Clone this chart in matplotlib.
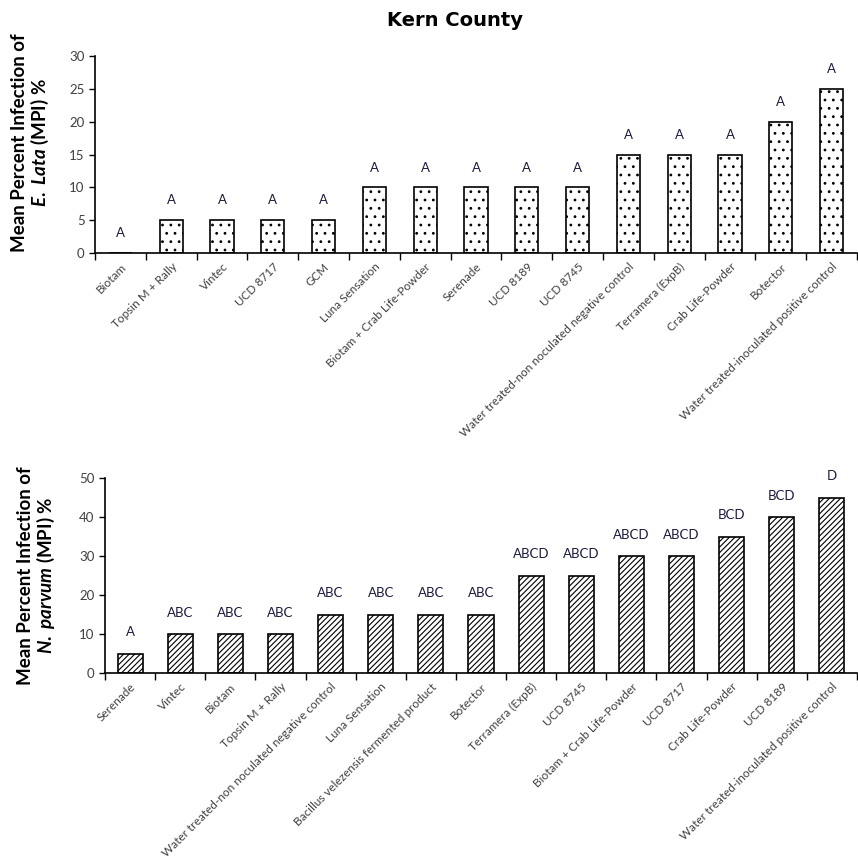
import matplotlib
matplotlib.use("Agg")
import matplotlib.pyplot as plt
import numpy as np

plt.rcParams['font.family'] = ['Lato', 'DejaVu Sans']
plt.rcParams['mathtext.fontset'] = 'custom'
plt.rcParams['mathtext.it'] = 'Lato:italic:bold'
plt.rcParams['mathtext.rm'] = 'Lato:bold'
plt.rcParams['hatch.linewidth'] = 0.8

# ---- data ----
top_categories = ["Biotam", "Topsin M + Rally", "Vintec", "UCD 8717", "GCM",
                  "Luna Sensation", "Biotam + Crab Life-Powder", "Serenade",
                  "UCD 8189", "UCD 8745",
                  "Water treated-non noculated negative control",
                  "Terramera (ExpB)", "Crab Life-Powder", "Botector",
                  "Water treated-inoculated positive control"]
top_values = [0, 5, 5, 5, 5, 10, 10, 10, 10, 10, 15, 15, 15, 20, 25]
top_letters = ["A"] * 15

bot_categories = ["Serenade", "Vintec", "Biotam", "Topsin M + Rally",
                  "Water treated-non noculated negative control",
                  "Luna Sensation", "Bacillus velezensis fermented product",
                  "Botector", "Terramera (ExpB)", "UCD 8745",
                  "Biotam + Crab Life-Powder", "UCD 8717", "Crab Life-Powder",
                  "UCD 8189", "Water treated-inoculated positive control"]
bot_values = [5, 10, 10, 10, 15, 15, 15, 15, 25, 25, 30, 30, 35, 40, 45]
bot_letters = ["A", "ABC", "ABC", "ABC", "ABC", "ABC", "ABC", "ABC",
               "ABCD", "ABCD", "ABCD", "ABCD", "BCD", "BCD", "D"]

W, H = 858, 867
fig = plt.figure(figsize=(W / 100, H / 100), dpi=100)

tick_col = '#404040'
letter_col = '#1a1a40'


def make(ax, cats, vals, letters, ymax, ystep, hatch, width, offset, ylabel_species):
    x = np.arange(len(cats))
    ax.bar(x, vals, width=width, color='white', edgecolor='black',
           hatch=hatch, linewidth=1.2)
    for xi, v, l in zip(x, vals, letters):
        ax.text(xi, v + offset, l, ha='center', va='center', fontsize=9.5,
                color=letter_col, clip_on=False)
    ax.set_xlim(-0.5, len(cats) - 0.5)
    ax.set_ylim(0, ymax)
    ax.set_yticks(np.arange(0, ymax + 1, ystep))
    ax.set_xticks(x)
    ax.set_xticklabels(cats, rotation=45, ha='right', rotation_mode='anchor',
                       fontsize=8.5, color=tick_col)
    ax.set_xticks(np.arange(-0.5, len(cats), 1.0), minor=True)
    ax.tick_params(axis='x', which='major', length=0, pad=6)
    ax.tick_params(axis='x', which='minor', length=5, width=1, direction='out')
    ax.tick_params(axis='y', length=4, width=1, labelsize=9.5, labelcolor=tick_col)
    for s in ['top', 'right']:
        ax.spines[s].set_visible(False)
    for s in ['left', 'bottom']:
        ax.spines[s].set_linewidth(1.2)
    ax.set_ylabel("Mean Percent Infection of\n$\\mathit{" + ylabel_species + "}$ (MPI) %",
                  fontsize=13.5, fontweight='bold', linespacing=1.05)


ax1 = fig.add_axes([95 / W, 1 - 253 / H, (857 - 95) / W, (253 - 56) / H])
make(ax1, top_categories, top_values, top_letters, 30, 5, '..', 0.46, 3.0, "E.\\ Lata")
ax1.yaxis.set_label_coords(-0.058, 0.56)

ax2 = fig.add_axes([105 / W, 1 - 673 / H, (857 - 105) / W, (673 - 478) / H])
make(ax2, bot_categories, bot_values, bot_letters, 50, 10, '//////', 0.5, 5.5, "N.\\ parvum")
ax2.yaxis.set_label_coords(-0.064, 0.5)

fig.text(0.53, 1 - 20 / H, "Kern County", ha='center', va='center',
         fontsize=14, fontweight='bold', family='DejaVu Sans')

fig.savefig("out.png", dpi=100)
